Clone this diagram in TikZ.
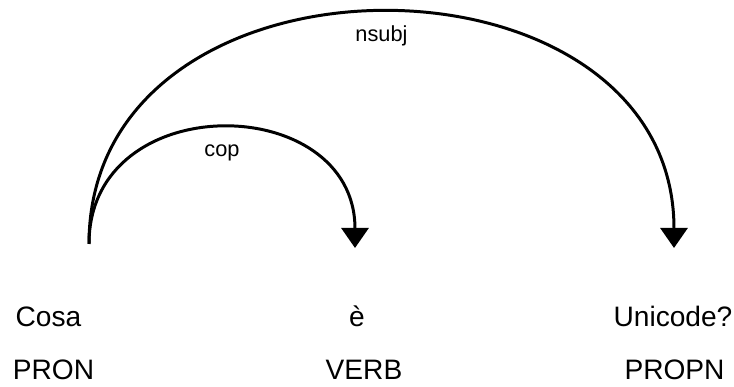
\documentclass[tikz,border=0pt]{standalone}
\usepackage{fontspec}
\setmainfont{Liberation Sans}
\usetikzlibrary{arrows.meta}

\begin{document}
\begin{tikzpicture}
        [word/.style={anchor=base, inner sep=0pt, font=\fontsize{16}{19}\selectfont},
        tag/.style={anchor=base, inner sep=0pt, font=\fontsize{16}{19}\selectfont},
        arc/.style={line width=1.7pt, black, -{Triangle[width=0.54cm, length=0.4cm]}},
        deplabel/.style={font=\fontsize{12.4}{14}\selectfont, text height=8.6pt, text depth=0pt}]

        \useasboundingbox (0,0) rectangle (14.68,7.74);

        % Words of the sentence
        \node[word] (cosa) at (0.97,1.21) {Cosa};
        \node[word] (e) at (7.14,1.21) {è};
        \node[word] (unicode) at (13.46,1.21) {Unicode?};

        % POS tags under the words
        \node[tag] (pron) at (1.07,0.14) {PRON};
        \node[tag] (verb) at (7.28,0.14) {VERB};
        \node[tag] (propn) at (13.49,0.14) {PROPN};

        % arc end points above the words
        \coordinate (cosa-arc) at (1.78,2.86);
        \coordinate (e-arc) at (7.10,2.78);
        \coordinate (unicode-arc) at (13.48,2.78);

        % dependency arcs
        \draw[arc] (cosa-arc) to[out=90, in=90, distance=3.14cm]
            node[midway, below=3.5pt, deplabel] {cop} (e-arc);
        \draw[arc] (cosa-arc) to[out=90, in=90, distance=6.22cm]
            node[midway, below=3.5pt, deplabel] {nsubj} (unicode-arc);

    \end{tikzpicture}
\end{document}
